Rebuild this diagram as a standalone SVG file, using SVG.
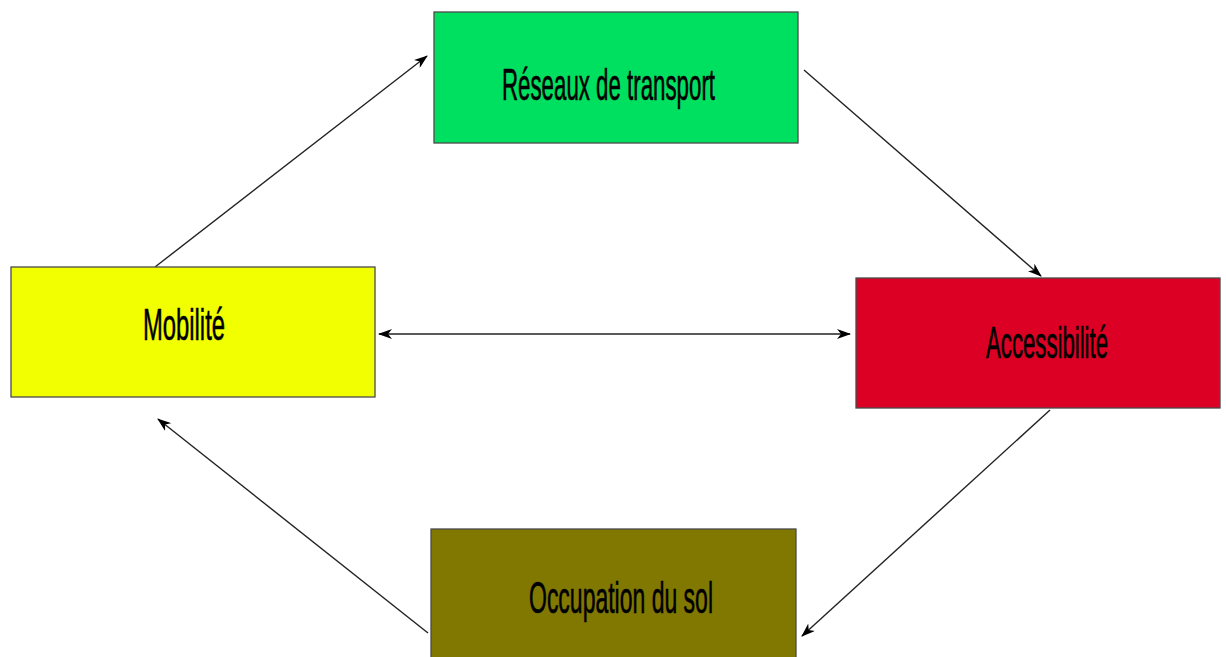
<svg xmlns="http://www.w3.org/2000/svg" width="1226" height="657" viewBox="0 0 1226 657">
<style>
.box{stroke:#4a4a4a;stroke-width:1.3}
.lbl{font-family:"Liberation Sans",Arial,sans-serif;font-size:45px;fill:#000;stroke:#000;stroke-width:0.6}
.con{stroke:#222;stroke-width:1.4;fill:none}
</style>
<defs>
<marker id="ah" viewBox="0 0 14 10" refX="13" refY="5" markerWidth="14" markerHeight="10" markerUnits="userSpaceOnUse" orient="auto-start-reverse">
<path d="M0,0 L14,5 L0,10 L4,5 Z" fill="#000"/>
</marker>
</defs>
<rect width="1226" height="657" fill="#fff"/>
<g id="connectors">
<line class="con" x1="155" y1="267" x2="427" y2="56" marker-end="url(#ah)"/>
<line class="con" x1="804" y1="70" x2="1041" y2="276" marker-end="url(#ah)"/>
<line class="con" x1="379" y1="334" x2="850" y2="334" marker-start="url(#ah)" marker-end="url(#ah)"/>
<line class="con" x1="1050" y1="410" x2="802" y2="636" marker-end="url(#ah)"/>
<line class="con" x1="428" y1="633" x2="158" y2="419" marker-end="url(#ah)"/>
</g>
<g id="reseaux">
<rect class="box" x="434" y="12" width="364" height="131" fill="#00e060"/>
<text class="lbl" x="502" y="100" textLength="213" lengthAdjust="spacingAndGlyphs">Réseaux de transport</text>
</g>
<g id="mobilite">
<rect class="box" x="11" y="267" width="364" height="130" fill="#f2ff00"/>
<text class="lbl" x="143" y="340" textLength="82" lengthAdjust="spacingAndGlyphs">Mobilité</text>
</g>
<g id="accessibilite">
<rect class="box" x="856" y="278" width="364" height="130" fill="#dc0024"/>
<text class="lbl" x="986" y="358" textLength="122" lengthAdjust="spacingAndGlyphs">Accessibilité</text>
</g>
<g id="occupation">
<rect class="box" x="431" y="529" width="365" height="140" fill="#807800"/>
<text class="lbl" x="529" y="613" textLength="184" lengthAdjust="spacingAndGlyphs">Occupation du sol</text>
</g>
</svg>
